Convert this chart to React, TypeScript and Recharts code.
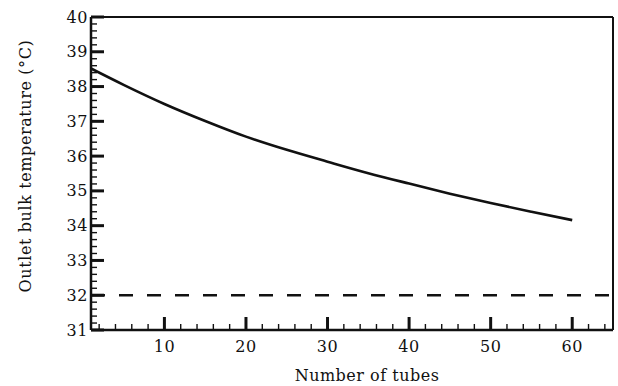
import React from 'react';
import { LineChart, Line, XAxis, YAxis, ReferenceLine } from 'recharts';

// Outlet bulk temperature vs. number of tubes in the bank
const tubeCounts = [1, 5, 10, 15, 20, 25, 30, 35, 40, 45, 50, 55, 60];
const outletTemps = [38.52, 38.05, 37.5, 37.01, 36.56, 36.18, 35.84, 35.51, 35.21, 34.92, 34.65, 34.4, 34.16];

// Inlet temperature reference (dashed), spanning the whole axis
const inletTubes = [1, 65];
const inletTemps = [32, 32];

const xMajor = [10, 20, 30, 40, 50, 60];
const xTicks = Array.from({ length: 32 }, (_, i) => 2 + i * 2);
const yMajor = [31, 32, 33, 34, 35, 36, 37, 38, 39, 40];
const yTicks = Array.from({ length: 46 }, (_, i) => Math.round((31 + i * 0.2) * 10) / 10);

const outletData = tubeCounts.map((n, i) => ({ n, t: outletTemps[i] }));
const inletData = inletTubes.map((n, i) => ({ n, t: inletTemps[i] }));

const FONT = '"DejaVu Serif", serif';
const INK = '#111';

const XTick = (props: any) => {
  const { x, y, payload } = props;
  const v = payload.value;
  const major = xMajor.includes(v);
  return (
    <g>
      <line x1={x} y1={y} x2={x} y2={y - (major ? 13 : 6)} stroke={INK} strokeWidth={major ? 3 : 1.4} />
      {major && (
        <text x={x} y={y + 22} textAnchor="middle" fontFamily={FONT} fontSize={16} letterSpacing={0.6} fill={INK}>
          {v}
        </text>
      )}
    </g>
  );
};

const YTick = (props: any) => {
  const { x, y, payload } = props;
  const v = payload.value;
  const major = yMajor.includes(v);
  return (
    <g>
      <line x1={x} y1={y} x2={x + (major ? 13 : 6)} y2={y} stroke={INK} strokeWidth={major ? 3 : 1.4} />
      {major && (
        <text x={x - 3} y={y + 5.5} textAnchor="end" fontFamily={FONT} fontSize={16} letterSpacing={0.6} fill={INK}>
          {v}
        </text>
      )}
    </g>
  );
};

const XTitle = () => (
  <text x={367} y={381} textAnchor="middle" fontFamily={FONT} fontSize={16} letterSpacing={0.5} fill={INK}>
    Number of tubes
  </text>
);

const YTitle = () => (
  <text
    x={0}
    y={0}
    transform="translate(31,166) rotate(-90)"
    textAnchor="middle"
    fontFamily={FONT}
    fontSize={16}
    letterSpacing={0.6}
    fill={INK}
  >
    Outlet bulk temperature (°C)
  </text>
);

export default function App() {
  return (
    <div style={{ position: 'absolute', left: 0, top: 0, width: 618, height: 386, background: '#fff' }}>
      <LineChart width={618} height={386} margin={{ top: 17, right: 5, bottom: 0, left: 0 }}>
        <XAxis
          dataKey="n"
          type="number"
          domain={[1, 65]}
          allowDataOverflow
          ticks={xTicks}
          interval={0}
          tickSize={0}
          tickMargin={0}
          tickLine={false}
          tick={<XTick />}
          axisLine={{ stroke: INK, strokeWidth: 2.5 }}
          height={56}
          label={<XTitle />}
        />
        <YAxis
          type="number"
          domain={[31, 40]}
          allowDataOverflow
          ticks={yTicks}
          interval={0}
          tickSize={0}
          tickMargin={0}
          tickLine={false}
          tick={<YTick />}
          axisLine={{ stroke: INK, strokeWidth: 2.5 }}
          width={91}
          label={<YTitle />}
        />
        <ReferenceLine y={40} stroke={INK} strokeWidth={2} />
        <ReferenceLine x={65} stroke={INK} strokeWidth={2} />
        <Line
          data={inletData}
          dataKey="t"
          stroke={INK}
          strokeWidth={2.5}
          strokeDasharray="14 14"
          dot={false}
          isAnimationActive={false}
        />
        <Line
          data={outletData}
          dataKey="t"
          type="monotone"
          stroke={INK}
          strokeWidth={2.6}
          dot={false}
          isAnimationActive={false}
        />
      </LineChart>
    </div>
  );
}
